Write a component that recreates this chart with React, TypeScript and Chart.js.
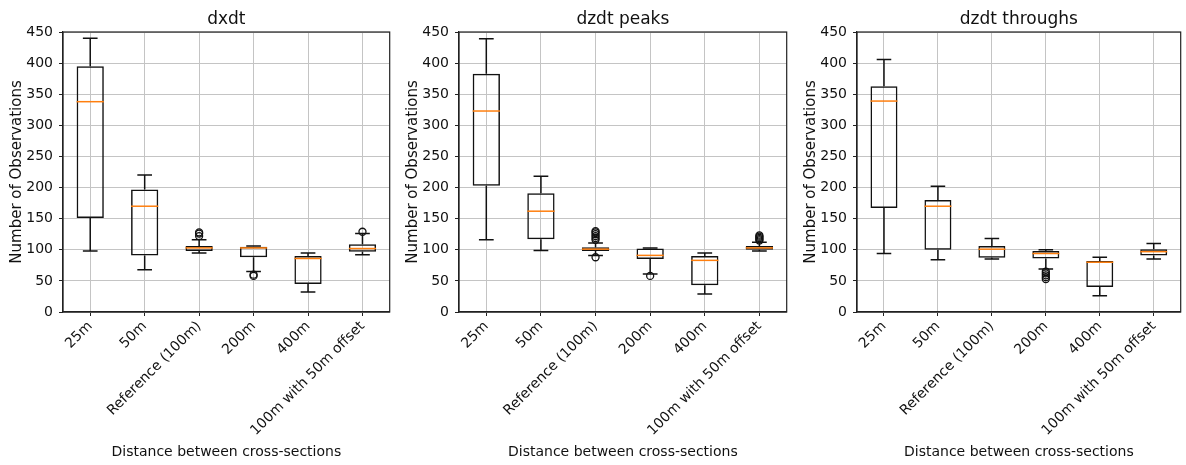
import { useEffect, useRef } from 'react';
import { Chart, registerables } from 'chart.js';

Chart.register(...registerables);

// Categories on the x axis
const categories = ['25m', '50m', 'Reference (100m)', '200m', '400m', '100m with 50m offset'];

// dxdt box statistics
const dxdtLow = [98, 68, 95, 65, 32, 92];
const dxdtQ1 = [151, 91, 98, 88, 45, 97];
const dxdtMedian = [338, 170, 103, 103, 86, 102];
const dxdtQ3 = [395, 197, 106, 105, 90, 109];
const dxdtHigh = [440, 220, 116, 106, 95, 126];
const dxdtOutliers: [string, number][] = [
  ['Reference (100m)', 122], ['Reference (100m)', 126], ['Reference (100m)', 128],
  ['200m', 58], ['200m', 60],
  ['100m with 50m offset', 129],
];

// dzdt peaks box statistics
const peaksLow = [116, 99, 91, 61, 29, 98];
const peaksQ1 = [203, 117, 98, 85, 43, 100];
const peaksMedian = [323, 162, 101, 91, 83, 103];
const peaksQ3 = [383, 191, 104, 102, 90, 106];
const peaksHigh = [439, 218, 111, 103, 95, 112];
const peaksOutliers: [string, number][] = [
  ['Reference (100m)', 88], ['Reference (100m)', 116], ['Reference (100m)', 119],
  ['Reference (100m)', 122], ['Reference (100m)', 125], ['Reference (100m)', 128],
  ['Reference (100m)', 130],
  ['200m', 58],
  ['100m with 50m offset', 115], ['100m with 50m offset', 117], ['100m with 50m offset', 119],
  ['100m with 50m offset', 121], ['100m with 50m offset', 123],
];

// dzdt throughs box statistics
const troughsLow = [94, 84, 85, 69, 26, 85];
const troughsQ1 = [167, 100, 87, 86, 40, 91];
const troughsMedian = [339, 170, 101, 94, 80, 97];
const troughsQ3 = [363, 180, 106, 98, 82, 101];
const troughsHigh = [406, 202, 118, 100, 88, 110];
const troughsOutliers: [string, number][] = [
  ['200m', 53], ['200m', 56], ['200m', 59], ['200m', 62], ['200m', 65],
];

const yMin = 0;
const yMax = 450;
const yStep = 50;

const FONT = 'DejaVu Sans';
const TEXT = '#111';
const LINE_W = 1.5;

type Panel = {
  title: string;
  low: number[];
  q1: number[];
  median: number[];
  q3: number[];
  high: number[];
  outliers: [string, number][];
  left: number;
  width: number;
  padRight: number;
};

const panels: Panel[] = [
  { title: 'dxdt', low: dxdtLow, q1: dxdtQ1, median: dxdtMedian, q3: dxdtQ3, high: dxdtHigh, outliers: dxdtOutliers, left: 0, width: 395, padRight: 4 },
  { title: 'dzdt peaks', low: peaksLow, q1: peaksQ1, median: peaksMedian, q3: peaksQ3, high: peaksHigh, outliers: peaksOutliers, left: 396, width: 396, padRight: 4 },
  { title: 'dzdt throughs', low: troughsLow, q1: troughsQ1, median: troughsMedian, q3: troughsQ3, high: troughsHigh, outliers: troughsOutliers, left: 794, width: 392, padRight: 2 },
];

// Whiskers, caps and medians drawn on top of the box bars
const boxPlotPlugin = {
  id: 'boxPlot',
  afterDatasetsDraw(chart: any, _args: any, opts: any) {
    const { ctx } = chart;
    const x = chart.scales.x;
    const y = chart.scales.y;
    const step = x.getPixelForValue(1) - x.getPixelForValue(0);
    const boxHalf = step * 0.25;
    const capHalf = step * 0.135;
    ctx.save();
    ctx.lineWidth = LINE_W;
    for (let i = 0; i < opts.median.length; i++) {
      const cx = x.getPixelForValue(i);
      const yLow = y.getPixelForValue(opts.low[i]);
      const yQ1 = y.getPixelForValue(opts.q1[i]);
      const yQ3 = y.getPixelForValue(opts.q3[i]);
      const yHigh = y.getPixelForValue(opts.high[i]);
      ctx.strokeStyle = '#111';
      ctx.beginPath();
      ctx.moveTo(cx, yQ1);
      ctx.lineTo(cx, yLow);
      ctx.moveTo(cx, yQ3);
      ctx.lineTo(cx, yHigh);
      ctx.moveTo(cx - capHalf, yLow);
      ctx.lineTo(cx + capHalf, yLow);
      ctx.moveTo(cx - capHalf, yHigh);
      ctx.lineTo(cx + capHalf, yHigh);
      ctx.stroke();
      const yMed = y.getPixelForValue(opts.median[i]);
      ctx.strokeStyle = '#ff7f0e';
      ctx.beginPath();
      ctx.moveTo(cx - boxHalf, yMed);
      ctx.lineTo(cx + boxHalf, yMed);
      ctx.stroke();
    }
    ctx.restore();
  },
};

// Axes frame and the panel title centred over the plotting area
const frameTitlePlugin = {
  id: 'frameTitle',
  afterDraw(chart: any, _args: any, opts: any) {
    const { ctx, chartArea } = chart;
    ctx.save();
    ctx.strokeStyle = '#222';
    ctx.lineWidth = 1.2;
    ctx.strokeRect(chartArea.left, chartArea.top, chartArea.right - chartArea.left, chartArea.bottom - chartArea.top);
    ctx.fillStyle = TEXT;
    ctx.font = `17px "${FONT}"`;
    ctx.textAlign = 'center';
    ctx.textBaseline = 'middle';
    ctx.fillText(opts.text, (chartArea.left + chartArea.right) / 2, 20);
    ctx.restore();
  },
};

function BoxPanel({ panel }: { panel: Panel }) {
  const ref = useRef<HTMLCanvasElement | null>(null);

  useEffect(() => {
    if (!ref.current) return;
    const chart = new Chart(ref.current, {
      type: 'bar',
      data: {
        labels: categories,
        datasets: [
          {
            type: 'bar',
            data: panel.q1.map((v, i) => [v, panel.q3[i]]) as any,
            backgroundColor: 'rgba(0,0,0,0)',
            borderColor: '#111',
            borderWidth: LINE_W,
            borderSkipped: false,
            barPercentage: 0.5,
            categoryPercentage: 1,
          },
          {
            type: 'scatter',
            data: panel.outliers.map(([c, v]) => ({ x: c, y: v })) as any,
            pointStyle: 'circle',
            pointRadius: 3.5,
            pointBorderWidth: 1.3,
            pointBorderColor: '#111',
            pointBackgroundColor: 'rgba(0,0,0,0)',
            showLine: false,
          } as any,
        ],
      },
      options: {
        responsive: false,
        animation: false,
        devicePixelRatio: 1,
        layout: { padding: { top: 32, right: panel.padRight, left: 0, bottom: 0 } },
        plugins: {
          legend: { display: false },
          tooltip: { enabled: false },
          title: { display: false },
          boxPlot: {
            low: panel.low,
            q1: panel.q1,
            median: panel.median,
            q3: panel.q3,
            high: panel.high,
          },
          frameTitle: { text: panel.title },
        } as any,
        scales: {
          x: {
            type: 'category',
            offset: true,
            grid: { offset: false, color: '#c4c4c4', lineWidth: 1, tickColor: '#222', tickLength: 4 },
            border: { color: '#222', width: 1.2 },
            ticks: {
              autoSkip: false,
              maxRotation: 45,
              minRotation: 45,
              padding: 2,
              color: TEXT,
              font: { family: FONT, size: 14 },
            },
            title: {
              display: true,
              text: 'Distance between cross-sections',
              color: TEXT,
              font: { family: FONT, size: 14 },
              padding: { top: 0, bottom: 4 },
            },
            afterFit(scale: any) {
              scale.height = 153;
            },
          },
          y: {
            min: yMin,
            max: yMax,
            grid: { color: '#c4c4c4', lineWidth: 1, tickColor: '#222', tickLength: 4 },
            border: { color: '#222', width: 1.2 },
            ticks: {
              stepSize: yStep,
              padding: 6,
              color: TEXT,
              font: { family: FONT, size: 14 },
            },
            title: {
              display: true,
              text: 'Number of Observations',
              color: TEXT,
              font: { family: FONT, size: 15 },
              padding: { top: 8, bottom: 0 },
            },
            afterFit(scale: any) {
              scale.width = 63;
            },
          },
        },
      },
      plugins: [boxPlotPlugin, frameTitlePlugin],
    });
    return () => chart.destroy();
  }, [panel]);

  return (
    <canvas
      ref={ref}
      width={panel.width}
      height={465}
      style={{ position: 'absolute', left: panel.left, top: 0, width: panel.width, height: 465 }}
    />
  );
}

export default function App() {
  return (
    <div style={{ position: 'absolute', left: 0, top: 0, width: 1186, height: 465, background: '#fff', overflow: 'hidden' }}>
      {panels.map((p) => (
        <BoxPanel key={p.title} panel={p} />
      ))}
    </div>
  );
}
